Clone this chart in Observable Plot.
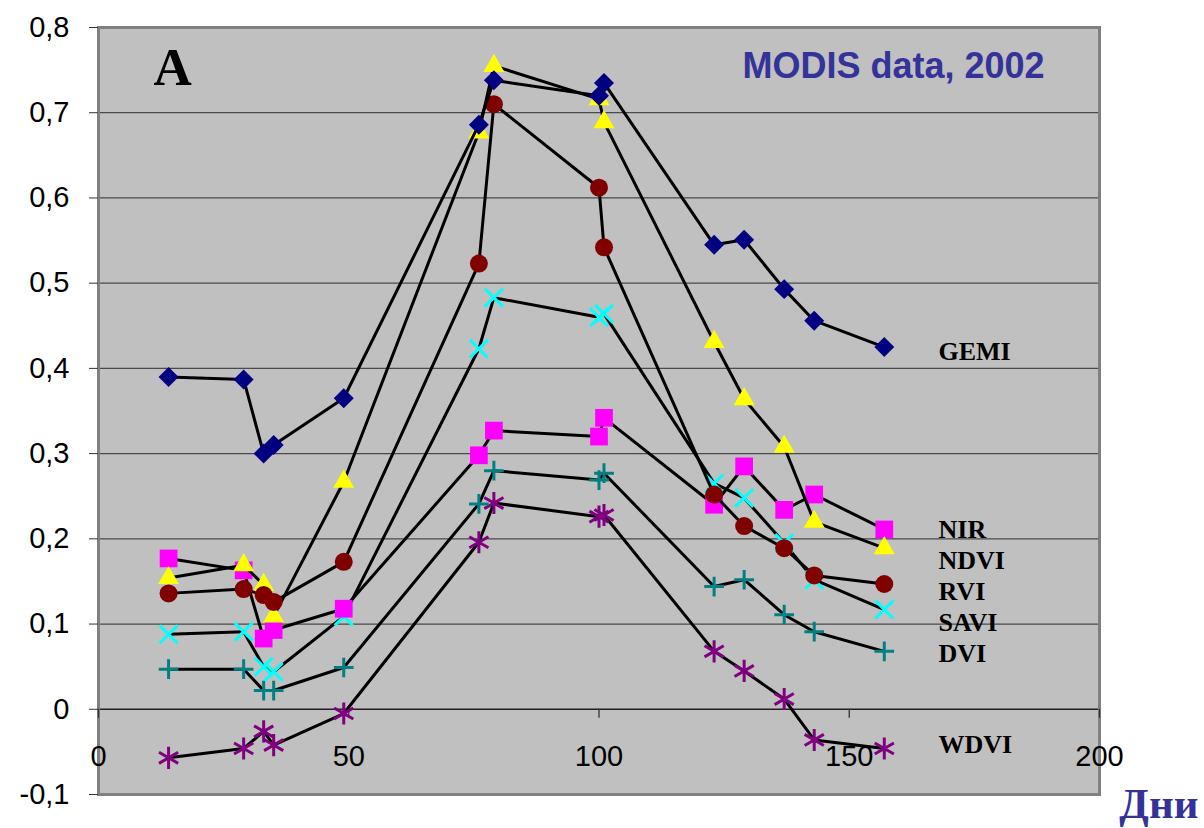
<!DOCTYPE html>
<html>
<head>
<meta charset="utf-8">
<script src="https://cdn.jsdelivr.net/npm/d3@7"></script>
<script src="https://cdn.jsdelivr.net/npm/@observablehq/plot@0.6"></script>
<style>
  html, body { margin: 0; padding: 0; background: #ffffff; }
  #chart { width: 1204px; height: 828px; }
</style>
</head>
<body>
<div id="chart"></div>
<script>
// ---- Data ----
const days = [14, 29, 33, 35, 49, 76, 79, 100, 101, 123, 129, 137, 143, 157];

const GEMI = [0.390, 0.387, 0.300, 0.310, 0.365, 0.686, 0.738, 0.720, 0.735, 0.545, 0.551, 0.493, 0.456, 0.425];
const NDVI = [0.154, 0.169, 0.146, 0.109, 0.267, 0.677, 0.755, 0.716, 0.689, 0.431, 0.364, 0.308, 0.220, 0.189];
const RVI  = [0.136, 0.141, 0.134, 0.126, 0.173, 0.523, 0.710, 0.612, 0.542, 0.252, 0.215, 0.189, 0.157, 0.147];
const NIR  = [0.177, 0.163, 0.083, 0.093, 0.118, 0.298, 0.327, 0.320, 0.342, 0.240, 0.285, 0.234, 0.252, 0.211];
const SAVI = [0.088, 0.091, 0.050, 0.044, 0.109, 0.423, 0.483, 0.460, 0.464, 0.265, 0.248, 0.195, 0.152, 0.117];
const DVI  = [0.047, 0.047, 0.022, 0.022, 0.049, 0.241, 0.280, 0.269, 0.277, 0.144, 0.152, 0.111, 0.091, 0.068];
const WDVI = [-0.057, -0.046, -0.026, -0.042, -0.005, 0.196, 0.242, 0.226, 0.228, 0.068, 0.045, 0.012, -0.036, -0.046];

const xTicks = [0, 50, 100, 150, 200];
const yTicks = [-0.1, 0, 0.1, 0.2, 0.3, 0.4, 0.5, 0.6, 0.7, 0.8];
const titleText = "MODIS data, 2002";
const panelLetter = "A";
const xAxisTitle = "Дни";

// ---- Series styles (drawing order: bottom to top) ----
const series = [
  {name: "WDVI", values: WDVI, symbol: "asterisk", color: "#800080", stroked: true,  r: 10.5},
  {name: "DVI",  values: DVI,  symbol: "plus",     color: "#008080", stroked: true,  r: 6.4},
  {name: "SAVI", values: SAVI, symbol: "times",    color: "#00ffff", stroked: true,  r: 8.2},
  {name: "NIR",  values: NIR,  symbol: "square",   color: "#ff00ff", stroked: false, r: 10},
  {name: "NDVI", values: NDVI, symbol: "triangle", color: "#ffff00", stroked: false, r: 7.8},
  {name: "RVI",  values: RVI,  symbol: "circle",   color: "#800000", stroked: false, r: 9},
  {name: "GEMI", values: GEMI, symbol: "diamond2", color: "#000080", stroked: false, r: 9}
];

// Right-side series labels (baseline in value units)
const labelNames = ["GEMI", "NIR", "NDVI", "RVI", "SAVI", "DVI", "WDVI"];
const labelY = [0.4095, 0.2008, 0.1645, 0.128, 0.0917, 0.0554, -0.0512];
const labels = labelNames.map((n, i) => ({name: n, y: labelY[i]}));

const fmt = d => (Math.abs(d) < 1e-9 ? "0" : d.toFixed(1).replace(".", ","));

const seriesMarks = series.flatMap(s => {
  const rows = days.map((d, i) => ({day: d, value: s.values[i]}));
  return [
    Plot.line(rows, {x: "day", y: "value", stroke: "#000000", strokeWidth: 3}),
    Plot.dot(rows, s.stroked
      ? {x: "day", y: "value", symbol: () => s.symbol, r: s.r, fill: "none", stroke: s.color, strokeWidth: 3}
      : {x: "day", y: "value", symbol: () => s.symbol, r: s.r, fill: s.color, stroke: "none"})
  ];
});

const chart = Plot.plot({
  width: 1204,
  height: 828,
  marginLeft: 98,
  marginRight: 105,
  marginTop: 27,
  marginBottom: 34,
  style: {fontFamily: "'Liberation Sans', Arial, sans-serif", color: "#000000", background: "#ffffff", overflow: "visible"},
  x: {domain: [0, 200], axis: null},
  y: {domain: [-0.1, 0.8]},
  symbol: {type: "identity"},
  marks: [
    Plot.frame({fill: "#c0c0c0"}),
    Plot.ruleY(yTicks.filter(t => t > 0), {stroke: "#4a4a4a", strokeWidth: 1.3}),
    Plot.ruleY([0], {stroke: "#202020", strokeWidth: 1.5}),
    Plot.frame({stroke: "#808080", strokeWidth: 3}),
    Plot.axisY({ticks: yTicks, tickFormat: fmt, tickSize: 9, tickPadding: 20, fontSize: 29, label: null, stroke: "#333333"}),
    Plot.ruleX(xTicks, {x: d => d, y1: () => 0, y2: () => 0, insetTop: 9, insetBottom: 0, stroke: "#333333", strokeWidth: 1.3}),
    Plot.text(xTicks, {x: d => d, y: () => 0, text: d => String(d), dy: 47, fontSize: 29, fill: "#000000"}),
    ...seriesMarks,
    Plot.text(labels, {y: "y", text: "name", frameAnchor: "left", dx: 840, textAnchor: "start", lineAnchor: "bottom",
      fontSize: 26, fontWeight: "bold", fontFamily: "'Liberation Serif', 'Times New Roman', serif", fill: "#000000"}),
    Plot.text([titleText], {text: d => d, frameAnchor: "top-left", dx: 644, dy: 50, textAnchor: "start", lineAnchor: "bottom",
      fontSize: 36, fontWeight: "bold", fill: "#333399"}),
    Plot.text([panelLetter], {text: d => d, frameAnchor: "top-left", dx: 55, dy: 57, textAnchor: "start", lineAnchor: "bottom",
      fontSize: 53, fontWeight: "bold", fontFamily: "'Liberation Serif', 'Times New Roman', serif", fill: "#333399".replace("#333399", "#000000")}),
    Plot.text([xAxisTitle], {text: d => d, frameAnchor: "bottom-right", dx: 99, dy: 23, textAnchor: "end", lineAnchor: "bottom",
      fontSize: 43, fontWeight: "bold", fontFamily: "'Liberation Serif', 'Times New Roman', serif", fill: "#333399"})
  ]
});

document.getElementById("chart").appendChild(chart);
</script>
</body>
</html>
